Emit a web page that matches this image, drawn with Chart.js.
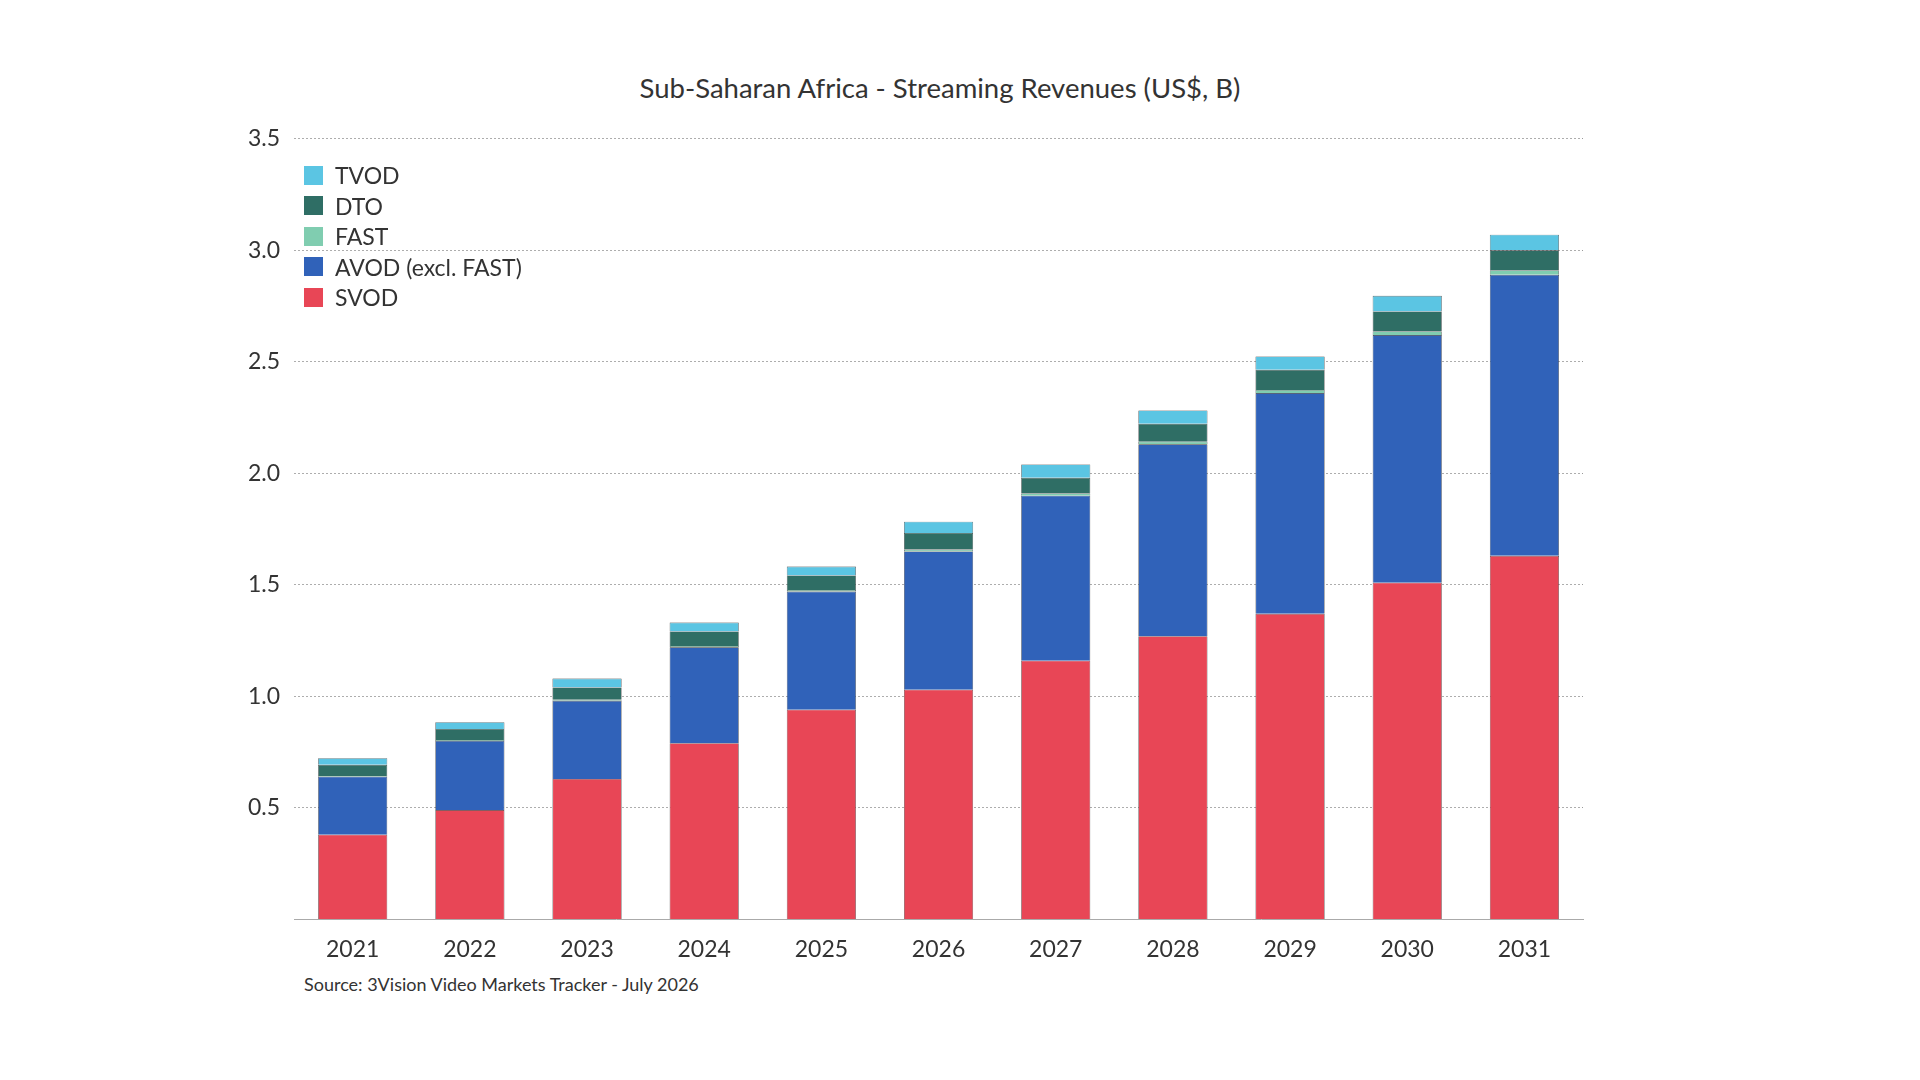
<!DOCTYPE html>
<html>
<head>
<meta charset="utf-8">
<script src="https://cdn.jsdelivr.net/npm/chart.js@4/dist/chart.umd.min.js"></script>
<style>
  body { margin: 0; background: #fff; font-family: Lato, "Noto Sans", sans-serif; }
  #wrap { position: absolute; left: 0; top: 0; width: 1920px; height: 1080px; }
  #title { position: absolute; top: 71px; width: 1880px; text-align: center; font-size: 27.5px; color: #333; }
  #chartBox { position: absolute; left: 234px; top: 111px; width: 1359px; height: 860px; }
  #legend { position: absolute; left: 304px; top: 160px; font-size: 23px; color: #333; }
  #legend div { height: 30.5px; display: flex; align-items: center; }
  #legend span { display: inline-block; width: 19px; height: 19px; margin-right: 12px; }
  #source { position: absolute; left: 304px; top: 973px; font-size: 18px; color: #333; }
</style>
</head>
<body>
<div id="wrap">
  <div id="title">Sub-Saharan Africa - Streaming Revenues (US$, B)</div>
  <div id="chartBox"><canvas id="myChart" width="1359" height="860"></canvas></div>
  <div id="legend"></div>
  <div id="source">Source: 3Vision Video Markets Tracker - July 2026</div>
</div>
<script>
const years = ['2021', '2022', '2023', '2024', '2025', '2026', '2027', '2028', '2029', '2030', '2031'];
const svod = [0.38, 0.49, 0.63, 0.79, 0.94, 1.03, 1.16, 1.27, 1.37, 1.51, 1.63];
const avod = [0.26, 0.31, 0.35, 0.43, 0.53, 0.62, 0.74, 0.86, 0.99, 1.11, 1.26];
const fast = [0.003, 0.004, 0.005, 0.006, 0.007, 0.008, 0.01, 0.012, 0.014, 0.016, 0.02];
const dto = [0.05, 0.05, 0.055, 0.065, 0.065, 0.075, 0.07, 0.08, 0.09, 0.09, 0.09];
const tvod = [0.03, 0.03, 0.04, 0.04, 0.04, 0.05, 0.06, 0.06, 0.06, 0.07, 0.07];

const series = [
    { label: 'SVOD', data: svod, color: '#e84656' },
    { label: 'AVOD (excl. FAST)', data: avod, color: '#3062b9' },
    { label: 'FAST', data: fast, color: '#80cdb0' },
    { label: 'DTO', data: dto, color: '#2f6e65' },
    { label: 'TVOD', data: tvod, color: '#5bc5e3' }
];

// legend, top entry first
const legend = document.getElementById('legend');
series.slice().reverse().forEach(s => {
    const row = document.createElement('div');
    row.innerHTML = `<span style="background:${s.color}"></span>${s.label}`;
    legend.appendChild(row);
});

new Chart(document.getElementById('myChart'), {
    type: 'bar',
    data: {
        labels: years,
        datasets: series.map(s => ({
            label: s.label,
            data: s.data,
            backgroundColor: s.color,
            borderColor: '#333',
            borderWidth: 0.6,
            categoryPercentage: 1,
            barPercentage: 0.59
        }))
    },
    options: {
        responsive: false,
        animation: false,
        devicePixelRatio: 1,
        plugins: { legend: { display: false }, tooltip: { enabled: false } },
        layout: { padding: { left: 0, right: 10, top: 10, bottom: 0 } },
        scales: {
            x: {
                stacked: true,
                grid: { display: false },
                border: { color: '#aaa', dash: [2, 2] },
                ticks: { color: '#333', font: { size: 23, family: 'Lato' }, padding: 8, maxRotation: 0 }
            },
            y: {
                stacked: true,
                min: 0,
                max: 3.5,
                ticks: {
                    stepSize: 0.5,
                    color: '#333',
                    font: { size: 23, family: 'Lato' },
                    padding: 14,
                    callback: v => v === 0 ? '' : v.toFixed(1)
                },
                grid: { color: '#999', lineWidth: 0.8, drawTicks: false },
                border: { display: false, dash: [2, 2] }
            }
        }
    }
});
</script>
</body>
</html>
